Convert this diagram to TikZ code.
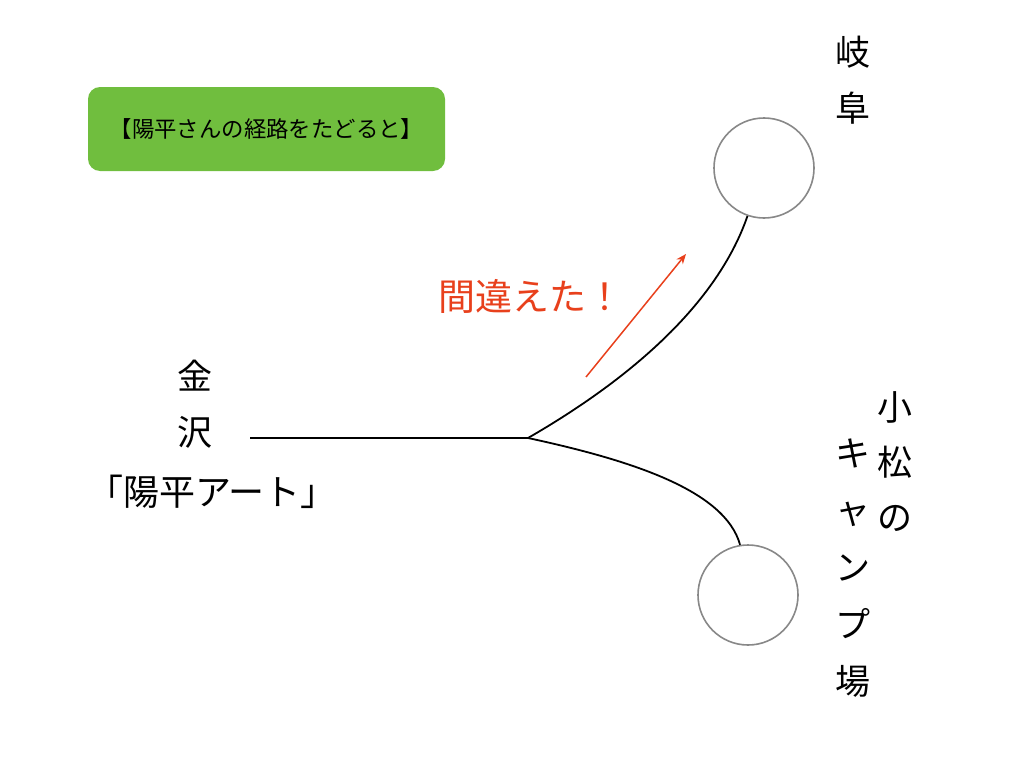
\documentclass[tikz,border=0pt]{standalone}
\usepackage{fontspec}
\setmainfont{Noto Sans CJK JP}
\usetikzlibrary{arrows.meta}
\definecolor{boxgreen}{HTML}{70BE3E}
\definecolor{arrred}{HTML}{E8401C}
\definecolor{circgray}{HTML}{888888}
\tikzset{
  vtext/.style={align=center, inner sep=0pt, font=\fontsize{35}{56}\selectfont},
  station/.style={circle, draw=circgray, line width=1.6pt, minimum size=100pt, inner sep=0pt},
  track/.style={line width=1.8pt, black},
}
\begin{document}
\begin{tikzpicture}[x=1pt,y=-1pt]
\useasboundingbox (0,0) rectangle (1024,768);
\node[fill=boxgreen, rounded corners=12pt, minimum width=357pt, minimum height=84pt, inner sep=0pt,
      font=\fontsize{22.4}{24}\selectfont] (title) at (266.5,129) {【陽平さんの経路をたどると】};
\node[vtext] (gifu) at (853,80) {岐\\阜};
\node[station] (top) at (764,168) {};
\node[station] (bot) at (748,595) {};
\node[vtext] (kana) at (195,404) {金\\沢};
\node[font=\fontsize{36}{38}\selectfont, inner sep=0pt] (art) at (212,492) {「陽平アート」};
\node[vtext, font=\fontsize{35}{55}\selectfont] (komatsu) at (895,462) {小\\松\\の};
\node[vtext, font=\fontsize{35}{57}\selectfont] (camp) at (853,568) {キ\\ャ\\ン\\プ\\場};
\node[text=arrred, font=\fontsize{37}{40}\selectfont, inner sep=0pt] (wrong) at (531,296) {間違えた！};
\coordinate (start) at (250,438);
\coordinate (junc) at (528,438);
\coordinate (a1) at (586,377);
\coordinate (a2) at (686,254);
\draw[track] (start) -- (junc);
\draw[track] (junc) .. controls (620,385) and (715,310) .. (top.-109);
\draw[track] (junc) .. controls (630,460) and (725,490) .. (bot.99);
\draw[arrred, line width=1.5pt, -{Stealth[length=10pt,width=8pt]}] (a1) -- (a2);
\end{tikzpicture}
\end{document}
